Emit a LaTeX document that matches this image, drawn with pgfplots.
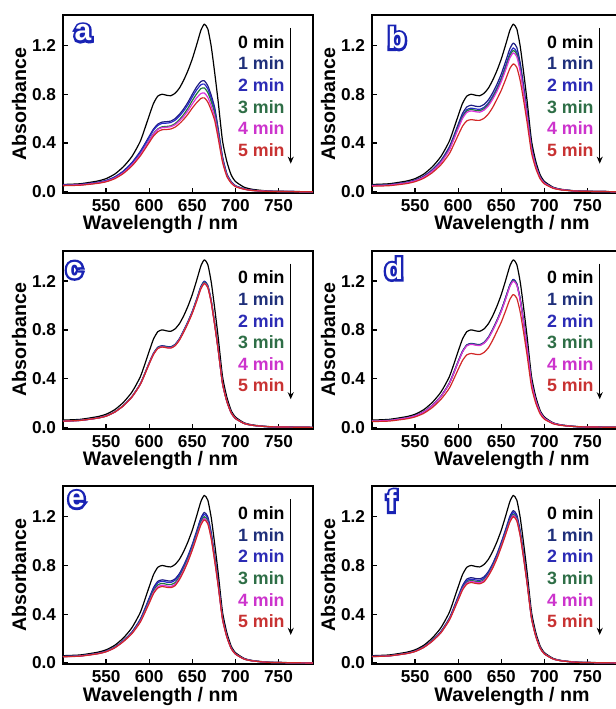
\documentclass[border=0pt]{standalone}
\usepackage{fontspec}
\setmainfont{Liberation Sans}
\newfontfamily\fatfont[FakeBold=16]{Liberation Sans}
\usepackage{pgfplots}
\usepackage{pgfplotstable}
\usepgfplotslibrary{groupplots}
\usetikzlibrary{arrows.meta}
\pgfplotsset{compat=1.18}

\definecolor{cA}{RGB}{0,0,0}
\definecolor{cB}{RGB}{30,30,130}
\definecolor{cC}{RGB}{40,40,200}
\definecolor{cD}{RGB}{30,120,60}
\definecolor{cE}{RGB}{220,50,220}
\definecolor{cF}{RGB}{210,40,40}
\definecolor{lB}{RGB}{31,47,122}
\definecolor{lC}{RGB}{43,43,181}
\definecolor{lD}{RGB}{46,110,70}
\definecolor{lE}{RGB}{204,51,204}
\definecolor{lF}{RGB}{200,50,50}
\definecolor{letblue}{RGB}{25,35,180}

\pgfplotstableread{
wl t0 t1 t2 t3 t4 t5
500 0.060 0.055 0.054 0.052 0.053 0.050
520 0.066 0.060 0.059 0.056 0.057 0.054
540 0.088 0.078 0.076 0.072 0.072 0.069
550 0.108 0.093 0.091 0.086 0.086 0.082
560 0.145 0.122 0.119 0.112 0.112 0.107
570 0.205 0.170 0.166 0.157 0.156 0.150
580 0.290 0.240 0.235 0.222 0.221 0.212
590 0.420 0.335 0.328 0.310 0.308 0.297
600 0.625 0.455 0.446 0.422 0.419 0.404
605 0.725 0.515 0.505 0.478 0.474 0.457
610 0.785 0.555 0.544 0.516 0.511 0.493
615 0.800 0.572 0.561 0.533 0.526 0.509
620 0.792 0.575 0.563 0.536 0.529 0.511
625 0.788 0.580 0.568 0.541 0.534 0.515
630 0.808 0.600 0.587 0.559 0.550 0.530
635 0.850 0.635 0.620 0.592 0.580 0.558
640 0.915 0.680 0.663 0.634 0.618 0.594
645 0.995 0.735 0.715 0.686 0.665 0.637
650 1.090 0.800 0.778 0.748 0.720 0.687
655 1.205 0.860 0.835 0.803 0.770 0.731
660 1.325 0.905 0.878 0.846 0.806 0.766
664 1.375 0.910 0.883 0.852 0.810 0.770
668 1.335 0.870 0.844 0.814 0.774 0.736
672 1.190 0.790 0.766 0.739 0.703 0.668
676 0.975 0.690 0.669 0.645 0.614 0.584
680 0.740 0.520 0.504 0.486 0.463 0.440
685 0.420 0.290 0.281 0.271 0.258 0.245
690 0.250 0.150 0.146 0.140 0.134 0.127
695 0.140 0.085 0.082 0.079 0.076 0.072
700 0.085 0.050 0.049 0.047 0.045 0.042
710 0.038 0.025 0.024 0.023 0.022 0.021
720 0.020 0.012 0.012 0.011 0.011 0.010
740 0.006 0.004 0.004 0.004 0.004 0.003
790 0.000 0.000 0.000 0.000 0.000 0.000
}\tabA

\pgfplotstableread{
wl t0 t1 t2 t3 t4 t5
500 0.060 0.053 0.051 0.051 0.050 0.046
520 0.066 0.059 0.057 0.056 0.055 0.050
540 0.088 0.078 0.076 0.074 0.073 0.067
550 0.108 0.096 0.093 0.091 0.090 0.083
560 0.145 0.129 0.124 0.122 0.120 0.111
570 0.205 0.182 0.176 0.173 0.170 0.157
580 0.290 0.257 0.249 0.245 0.240 0.222
590 0.420 0.373 0.360 0.354 0.348 0.316
600 0.625 0.554 0.536 0.528 0.518 0.465
605 0.725 0.643 0.622 0.612 0.601 0.538
610 0.785 0.696 0.674 0.663 0.651 0.582
615 0.800 0.710 0.686 0.675 0.663 0.592
620 0.792 0.702 0.680 0.668 0.657 0.587
625 0.788 0.699 0.676 0.665 0.653 0.586
630 0.808 0.717 0.693 0.682 0.670 0.603
635 0.850 0.754 0.729 0.717 0.705 0.638
640 0.915 0.812 0.785 0.772 0.759 0.692
645 0.995 0.883 0.854 0.840 0.825 0.760
650 1.090 0.967 0.935 0.920 0.904 0.833
655 1.205 1.069 1.034 1.017 0.999 0.921
660 1.325 1.175 1.137 1.118 1.098 1.012
664 1.375 1.220 1.180 1.160 1.140 1.050
668 1.335 1.184 1.145 1.127 1.107 1.020
672 1.190 1.056 1.021 1.004 0.987 0.909
676 0.975 0.865 0.837 0.823 0.808 0.745
680 0.740 0.656 0.635 0.625 0.613 0.565
685 0.420 0.373 0.360 0.354 0.348 0.321
690 0.250 0.222 0.215 0.211 0.207 0.191
695 0.140 0.124 0.120 0.118 0.116 0.107
700 0.085 0.075 0.073 0.072 0.070 0.065
710 0.038 0.034 0.033 0.032 0.032 0.029
720 0.020 0.018 0.017 0.017 0.017 0.015
740 0.006 0.005 0.005 0.005 0.005 0.005
790 0.000 0.000 0.000 0.000 0.000 0.000
}\tabB

\pgfplotstableread{
wl t0 t1 t2 t3 t4 t5
500 0.060 0.052 0.052 0.052 0.051 0.051
520 0.066 0.058 0.058 0.058 0.057 0.057
540 0.088 0.077 0.077 0.076 0.076 0.076
550 0.108 0.094 0.094 0.093 0.093 0.092
560 0.145 0.127 0.126 0.126 0.125 0.125
570 0.205 0.179 0.178 0.178 0.177 0.176
580 0.290 0.253 0.252 0.251 0.250 0.249
590 0.420 0.362 0.361 0.359 0.357 0.356
600 0.625 0.530 0.528 0.526 0.523 0.521
605 0.725 0.608 0.606 0.603 0.600 0.598
610 0.785 0.658 0.655 0.653 0.649 0.647
615 0.800 0.670 0.667 0.665 0.661 0.659
620 0.792 0.664 0.661 0.659 0.655 0.653
625 0.788 0.661 0.658 0.656 0.652 0.650
630 0.808 0.681 0.678 0.676 0.672 0.669
635 0.850 0.727 0.724 0.721 0.718 0.715
640 0.915 0.795 0.792 0.789 0.785 0.781
645 0.995 0.869 0.866 0.862 0.858 0.854
650 1.090 0.952 0.948 0.944 0.940 0.936
655 1.205 1.052 1.048 1.044 1.038 1.034
660 1.325 1.157 1.152 1.148 1.142 1.137
664 1.375 1.200 1.195 1.190 1.184 1.180
668 1.335 1.165 1.160 1.156 1.150 1.145
672 1.190 1.039 1.035 1.031 1.025 1.021
676 0.975 0.851 0.848 0.844 0.840 0.837
680 0.740 0.646 0.643 0.641 0.638 0.635
685 0.420 0.367 0.366 0.364 0.362 0.361
690 0.250 0.218 0.217 0.216 0.215 0.214
695 0.140 0.122 0.122 0.121 0.120 0.120
700 0.085 0.074 0.074 0.073 0.073 0.073
710 0.038 0.033 0.033 0.033 0.033 0.032
720 0.020 0.017 0.017 0.017 0.017 0.017
740 0.006 0.005 0.005 0.005 0.005 0.005
790 0.000 0.000 0.000 0.000 0.000 0.000
}\tabC

\pgfplotstableread{
wl t0 t1 t2 t3 t4 t5
500 0.060 0.053 0.053 0.053 0.052 0.048
520 0.066 0.058 0.058 0.058 0.057 0.052
540 0.088 0.078 0.078 0.077 0.077 0.070
550 0.108 0.095 0.095 0.094 0.094 0.086
560 0.145 0.128 0.127 0.127 0.126 0.115
570 0.205 0.181 0.180 0.180 0.179 0.163
580 0.290 0.256 0.255 0.254 0.253 0.230
590 0.420 0.367 0.366 0.364 0.363 0.325
600 0.625 0.542 0.540 0.538 0.535 0.476
605 0.725 0.625 0.623 0.620 0.618 0.549
610 0.785 0.677 0.674 0.672 0.669 0.595
615 0.800 0.689 0.686 0.684 0.681 0.606
620 0.792 0.683 0.680 0.678 0.675 0.600
625 0.788 0.679 0.676 0.674 0.671 0.597
630 0.808 0.698 0.695 0.692 0.690 0.615
635 0.850 0.740 0.737 0.734 0.731 0.653
640 0.915 0.805 0.802 0.799 0.795 0.715
645 0.995 0.880 0.876 0.873 0.869 0.789
650 1.090 0.964 0.960 0.956 0.952 0.864
655 1.205 1.065 1.061 1.056 1.052 0.956
660 1.325 1.171 1.166 1.162 1.157 1.051
664 1.375 1.215 1.210 1.205 1.200 1.090
668 1.335 1.180 1.175 1.171 1.166 1.059
672 1.190 1.052 1.048 1.044 1.039 0.944
676 0.975 0.862 0.859 0.855 0.852 0.773
680 0.740 0.654 0.651 0.649 0.646 0.587
685 0.420 0.371 0.370 0.368 0.367 0.333
690 0.250 0.221 0.220 0.219 0.218 0.198
695 0.140 0.124 0.124 0.123 0.123 0.111
700 0.085 0.075 0.075 0.074 0.074 0.067
710 0.038 0.034 0.034 0.034 0.034 0.030
720 0.020 0.018 0.018 0.018 0.018 0.016
740 0.006 0.005 0.005 0.005 0.005 0.005
790 0.000 0.000 0.000 0.000 0.000 0.000
}\tabD

\pgfplotstableread{
wl t0 t1 t2 t3 t4 t5
500 0.060 0.054 0.053 0.052 0.052 0.051
520 0.066 0.059 0.059 0.058 0.057 0.056
540 0.088 0.079 0.078 0.077 0.076 0.075
550 0.108 0.097 0.096 0.094 0.093 0.092
560 0.145 0.130 0.129 0.127 0.125 0.124
570 0.205 0.184 0.182 0.179 0.177 0.175
580 0.290 0.255 0.252 0.247 0.244 0.241
590 0.420 0.364 0.359 0.351 0.344 0.339
600 0.625 0.533 0.524 0.510 0.499 0.490
605 0.725 0.618 0.608 0.592 0.578 0.569
610 0.785 0.670 0.658 0.641 0.626 0.615
615 0.800 0.682 0.671 0.653 0.638 0.627
620 0.792 0.676 0.663 0.646 0.632 0.621
625 0.788 0.672 0.661 0.643 0.628 0.618
630 0.808 0.690 0.678 0.659 0.645 0.634
635 0.850 0.733 0.722 0.706 0.693 0.683
640 0.915 0.800 0.788 0.774 0.762 0.751
645 0.995 0.880 0.868 0.853 0.841 0.832
650 1.090 0.974 0.961 0.946 0.934 0.926
655 1.205 1.082 1.069 1.052 1.039 1.030
660 1.325 1.190 1.175 1.157 1.142 1.133
664 1.375 1.235 1.220 1.200 1.185 1.175
668 1.335 1.199 1.184 1.165 1.151 1.141
672 1.190 1.069 1.056 1.039 1.026 1.017
676 0.975 0.876 0.865 0.851 0.840 0.834
680 0.740 0.665 0.656 0.646 0.638 0.633
685 0.420 0.377 0.373 0.367 0.362 0.359
690 0.250 0.225 0.222 0.218 0.216 0.214
695 0.140 0.126 0.124 0.122 0.121 0.120
700 0.085 0.076 0.075 0.074 0.073 0.073
710 0.038 0.034 0.034 0.033 0.033 0.032
720 0.020 0.018 0.018 0.017 0.017 0.017
740 0.006 0.005 0.005 0.005 0.005 0.005
790 0.000 0.000 0.000 0.000 0.000 0.000
}\tabE

\pgfplotstableread{
wl t0 t1 t2 t3 t4 t5
500 0.060 0.055 0.054 0.053 0.053 0.052
520 0.066 0.060 0.059 0.059 0.058 0.058
540 0.088 0.080 0.079 0.078 0.077 0.077
550 0.108 0.098 0.097 0.096 0.095 0.094
560 0.145 0.132 0.130 0.129 0.128 0.127
570 0.205 0.186 0.184 0.182 0.180 0.179
580 0.290 0.260 0.255 0.252 0.250 0.248
590 0.420 0.372 0.366 0.362 0.358 0.355
600 0.625 0.547 0.537 0.528 0.523 0.516
605 0.725 0.635 0.624 0.613 0.606 0.598
610 0.785 0.688 0.675 0.663 0.656 0.647
615 0.800 0.700 0.688 0.677 0.669 0.660
620 0.792 0.693 0.681 0.669 0.662 0.653
625 0.788 0.690 0.678 0.666 0.659 0.650
630 0.808 0.707 0.696 0.683 0.675 0.666
635 0.850 0.750 0.738 0.728 0.721 0.714
640 0.915 0.815 0.804 0.793 0.785 0.778
645 0.995 0.895 0.884 0.872 0.864 0.857
650 1.090 0.991 0.979 0.967 0.959 0.952
655 1.205 1.095 1.082 1.069 1.060 1.052
660 1.325 1.204 1.190 1.175 1.166 1.157
664 1.375 1.250 1.235 1.220 1.210 1.200
668 1.335 1.214 1.199 1.184 1.175 1.165
672 1.190 1.082 1.069 1.056 1.047 1.039
676 0.975 0.886 0.876 0.865 0.858 0.851
680 0.740 0.673 0.665 0.656 0.651 0.646
685 0.420 0.382 0.377 0.373 0.370 0.367
690 0.250 0.227 0.225 0.222 0.220 0.218
695 0.140 0.127 0.126 0.124 0.123 0.122
700 0.085 0.077 0.076 0.075 0.075 0.074
710 0.038 0.035 0.034 0.034 0.033 0.033
720 0.020 0.018 0.018 0.018 0.018 0.017
740 0.006 0.005 0.005 0.005 0.005 0.005
790 0.000 0.000 0.000 0.000 0.000 0.000
}\tabF

\pgfplotsset{
  panel/.style={
    width=125pt, height=89pt, scale only axis,
    xmin=500, xmax=790, ymin=-0.01, ymax=1.45,
    xtick={550,600,650,700,750}, ytick={0,0.4,0.8,1.2},
    yticklabel style={/pgf/number format/.cd, fixed, fixed zerofill, precision=1},
    xticklabel style={anchor=base, inner sep=0pt, yshift=-9.2pt},
    /pgf/number format/assume math mode=true,
    tick align=inside, xtick pos=lower, ytick pos=left,
    major tick length=2.5pt,
    axis line style={line width=0.9pt},
    every tick/.style={black, line width=0.7pt},
    tick label style={font=\bfseries\fontsize{8.6}{9}\selectfont},
    label style={font=\bfseries\fontsize{9.8}{11}\selectfont},
    xlabel={Wavelength / nm}, ylabel={Absorbance},
    ylabel style={at={([xshift=-22pt]rel axis cs:0,0.5)}, anchor=center},
    every axis plot/.append style={line width=0.6pt, line join=round, smooth, tension=0.35},
  },
  leftcol/.style={xlabel style={at={([yshift=-18.4pt]rel axis cs:0.39,0)}, anchor=base, inner sep=0pt}},
  rightcol/.style={xlabel style={at={([yshift=-18.4pt]rel axis cs:0.56,0)}, anchor=base, inner sep=0pt}},
}

\newcommand{\legendblock}{%
  \node[anchor=east, text=cA, font=\bfseries\fontsize{8.9}{9}\selectfont, inner sep=0pt] at (rel axis cs:0.888,0.850) {0 min};
  \node[anchor=east, text=lB, font=\bfseries\fontsize{8.9}{9}\selectfont, inner sep=0pt] at (rel axis cs:0.888,0.728) {1 min};
  \node[anchor=east, text=lC, font=\bfseries\fontsize{8.9}{9}\selectfont, inner sep=0pt] at (rel axis cs:0.888,0.606) {2 min};
  \node[anchor=east, text=lD, font=\bfseries\fontsize{8.9}{9}\selectfont, inner sep=0pt] at (rel axis cs:0.888,0.484) {3 min};
  \node[anchor=east, text=lE, font=\bfseries\fontsize{8.9}{9}\selectfont, inner sep=0pt] at (rel axis cs:0.888,0.363) {4 min};
  \node[anchor=east, text=lF, font=\bfseries\fontsize{8.9}{9}\selectfont, inner sep=0pt] at (rel axis cs:0.888,0.242) {5 min};
  \draw[line width=0.55pt, -{Stealth[length=3.5pt,width=3pt]}] (rel axis cs:0.911,0.927) -- (rel axis cs:0.911,0.165);
}
\newcommand{\plotsix}[1]{%
  \addplot[cA] table[x=wl,y=t0]{#1};
  \addplot[cB] table[x=wl,y=t1]{#1};
  \addplot[cC] table[x=wl,y=t2]{#1};
  \addplot[cD] table[x=wl,y=t3]{#1};
  \addplot[cE] table[x=wl,y=t4]{#1};
  \addplot[cF] table[x=wl,y=t5]{#1};
}
% panel letter: a heavily emboldened blue glyph with the plain glyph in white on top
\newcommand{\plab}[3]{%
  \node[text=letblue, inner sep=0pt, font=\fatfont\bfseries\fontsize{15}{15}\selectfont] at (rel axis cs:#1,#2) {#3};
  \node[text=white, inner sep=0pt, font=\bfseries\fontsize{15}{15}\selectfont] at (rel axis cs:#1,#2) {#3};
}

\begin{document}
\begin{tikzpicture}
\begin{groupplot}[group style={group size=2 by 3, horizontal sep=29.5pt, vertical sep=28.8pt}, panel]
\nextgroupplot[leftcol]
\plotsix{\tabA}
\legendblock
\plab{0.08}{0.899}{a}
\nextgroupplot[rightcol]
\plotsix{\tabB}
\legendblock
\plab{0.10}{0.871}{b}
\nextgroupplot[leftcol]
\plotsix{\tabC}
\legendblock
\plab{0.045}{0.89}{c}
\nextgroupplot[rightcol]
\plotsix{\tabD}
\legendblock
\plab{0.088}{0.899}{d}
\nextgroupplot[leftcol]
\plotsix{\tabE}
\legendblock
\plab{0.054}{0.925}{e}
\nextgroupplot[rightcol]
\plotsix{\tabF}
\legendblock
\plab{0.078}{0.918}{f}
\end{groupplot}
\pgfresetboundingbox
\path ([shift={(-31.5pt,7.5pt)}]group c1r1.north west) rectangle ([shift={(276.5pt,-347pt)}]group c1r1.north west);
\end{tikzpicture}
\end{document}
